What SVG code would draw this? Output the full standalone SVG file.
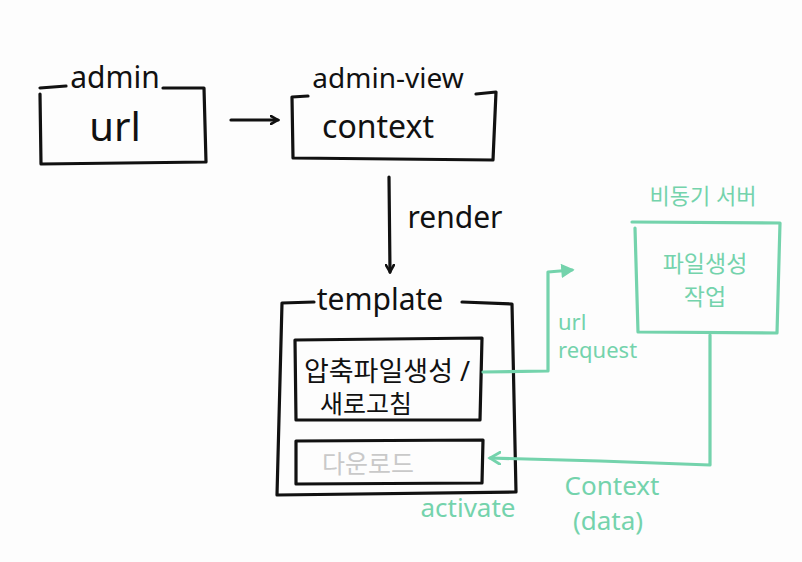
<svg xmlns="http://www.w3.org/2000/svg" width="802" height="562" viewBox="0 0 802 562">
<style>
.blk{fill:none;stroke:#111;stroke-width:3.2;stroke-linecap:round;stroke-linejoin:round}
.grn{fill:none;stroke:#74d3ac;stroke-width:3.2;stroke-linecap:round;stroke-linejoin:round}
.t{font-family:"Noto Sans","Noto Sans CJK KR",sans-serif;fill:#111}
.g{font-family:"Noto Sans","Noto Sans CJK KR",sans-serif;fill:#74d3ac}
</style>
<defs>
<marker id="ab" markerWidth="10" markerHeight="10" refX="8" refY="5" orient="auto" markerUnits="userSpaceOnUse">
<path d="M1,1 L8,5 L1,9" fill="none" stroke="#111" stroke-width="2.6" stroke-linecap="round"/>
</marker>
<marker id="ag" markerWidth="14" markerHeight="14" refX="11" refY="7" orient="auto" markerUnits="userSpaceOnUse">
<path d="M1,1 L12,7 L1,13 Z" fill="#74d3ac" stroke="#74d3ac" stroke-width="1.5"/>
</marker>
<marker id="ago" markerWidth="14" markerHeight="14" refX="11" refY="7" orient="auto" markerUnits="userSpaceOnUse">
<path d="M1,1 L11,7 L1,13" fill="none" stroke="#74d3ac" stroke-width="2.8" stroke-linecap="round"/>
</marker>
</defs>
<rect width="802" height="562" fill="#fdfdfd"/>

<g id="admin">
<path class="blk" d="M40,94 L41,164 L206,162 L204,88 L163,88 M66,86 L40,88"/>
<text class="t" x="115" y="88" font-size="30" text-anchor="middle">admin</text>
<text class="t" x="115" y="141" font-size="40" text-anchor="middle">url</text>
</g>

<g id="admin-view">
<path class="blk" d="M308,96 L292,97 L293,158 L493,160 L496,92 L476,94"/>
<text class="t" x="388" y="88" font-size="28" text-anchor="middle">admin-view</text>
<text class="t" x="378" y="138" font-size="32" text-anchor="middle">context</text>
</g>

<g id="template">
<path class="blk" d="M314,302 L282,303 L277,495 L516,492 L512,304 L462,302"/>
<text class="t" x="380" y="310" font-size="30" text-anchor="middle">template</text>
</g>

<g id="compress">
<path class="blk" d="M295,340 L482,338 L480,420 L296,420 Z"/>
<text class="t" x="387" y="381" font-size="27" text-anchor="middle">압축파일생성 /</text>
<text class="t" x="366" y="413" font-size="25" text-anchor="middle">새로고침</text>
</g>

<g id="download">
<path class="blk" d="M296,441 L483,440 L482,483 L296,484 Z"/>
<text x="368" y="473" font-size="25" text-anchor="middle" font-family="Noto Sans, Noto Sans CJK KR, sans-serif" fill="#c9c9c9">다운로드</text>
</g>

<g id="async-server">
<path class="grn" d="M632,222 L780,223 L777,333 L638,332 L635,228"/>
<text class="g" x="703" y="204" font-size="22" text-anchor="middle">비동기 서버</text>
<text class="g" x="705" y="272" font-size="23" text-anchor="middle">파일생성</text>
<text class="g" x="705" y="305" font-size="23" text-anchor="middle">작업</text>
</g>

<g id="connectors">
<path class="blk" d="M231,120 L278,120" marker-end="url(#ab)"/>
<path class="blk" d="M389,177 L390,272" marker-end="url(#ab)"/>
<path class="grn" d="M483,372 L548,371 L548,272 L572,270" marker-end="url(#ag)"/>
<path class="grn" d="M710,335 L710,465 L600,461 L490,458" marker-end="url(#ago)"/>
</g>

<g id="labels">
<text class="t" x="455" y="228" font-size="30" text-anchor="middle">render</text>
<text class="g" x="558" y="330" font-size="22">url</text>
<text class="g" x="558" y="358" font-size="22">request</text>
<text class="g" x="468" y="517" font-size="26" text-anchor="middle">activate</text>
<text class="g" x="612" y="495" font-size="26" text-anchor="middle">Context</text>
<text class="g" x="608" y="530" font-size="26" text-anchor="middle">(data)</text>
</g>
</svg>
